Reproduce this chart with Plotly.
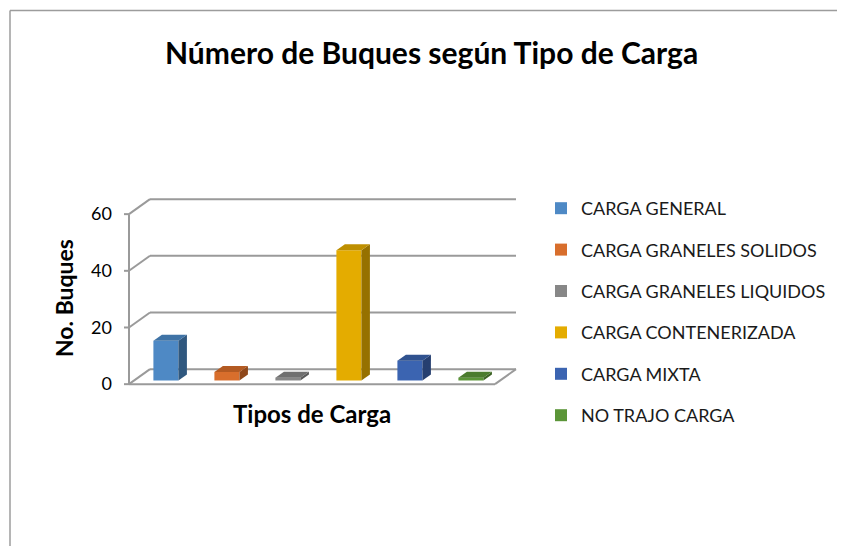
import plotly.graph_objects as go

# ---------------- data ----------------
categories = ["CARGA GENERAL", "CARGA GRANELES SOLIDOS", "CARGA GRANELES LIQUIDOS",
              "CARGA CONTENERIZADA", "CARGA MIXTA", "NO TRAJO CARGA"]
values = [14, 3, 1, 46, 7, 1]
y_ticks = [0, 20, 40, 60]

front_colors = ["#4E89C5", "#D86E2C", "#878787", "#E4AC00", "#3B64B1", "#5B9538"]
top_colors = ["#3F73A6", "#B35A22", "#707070", "#BE8F00", "#30528F", "#4B7B2E"]
side_colors = ["#30587F", "#8F481B", "#5A5A5A", "#967100", "#263F70", "#3C6224"]

# ---------------- geometry (page pixels -> axis units) ----------------
PAGE_W, PAGE_H = 845, 546
OFF = 8                      # default body margin of the written html page
W, H = PAGE_W - OFF, PAGE_H - OFF
PX_CAT = 61.0                # px per category
PX_UNIT = 170.0 / 60.0       # px per y unit
WX = 21 / PX_CAT             # wall depth in x units
WY = 15 / PX_UNIT            # wall depth in y units
BX = 8.5 / PX_CAT            # bar depth
BY = 6 / PX_UNIT
BAR_OFF = 0.105
BAR_W = 0.41
BAR_BASE = 1.3

xmin, xmax = -0.5 - 6 / PX_CAT, 5.5 + WX + 4 / PX_CAT
ymin, ymax = -1.0, 66.4
ml = 123 - OFF
plot_w = int(round((xmax - xmin) * PX_CAT))
mr = W - ml - plot_w
mt = 196 - OFF
plot_h = int(round((ymax - ymin) * PX_UNIT))
mb = H - mt - plot_h


def px2x(px):
    return (px - OFF - ml) / plot_w


def py2y(py):
    return (mt + plot_h - (py - OFF)) / plot_h


fig = go.Figure()

GRID = "#9a9a9a"
shapes = []


def seg(x0, y0, x1, y1, width=2):
    shapes.append(dict(type="line", xref="x", yref="y", x0=x0, y0=y0, x1=x1, y1=y1,
                       line=dict(color=GRID, width=width), layer="below"))


# back wall gridlines, left diagonals and ticks
for v in y_ticks:
    seg(-0.5 + WX, v + WY, 5.5 + WX, v + WY)
    seg(-0.5, v, -0.5 + WX, v + WY)
    seg(-0.5 - 5 / PX_CAT, v, -0.5, v)
# front axis and floor
seg(-0.5, 0, -0.5, y_ticks[-1])
seg(-0.5, 0, 5.5, 0)
seg(5.5, 0, 5.5 + WX, WY)

# bars (front faces)
for i, (c, v) in enumerate(zip(categories, values)):
    fig.add_trace(go.Bar(
        x=[i + BAR_OFF], y=[v], base=[BAR_BASE], width=[BAR_W], name=c,
        legendgroup=c, marker=dict(color=front_colors[i], line=dict(width=0)),
        hovertemplate=c + ": %{y}<extra></extra>"))

# 3D faces
for i, (c, v) in enumerate(zip(categories, values)):
    x0 = i + BAR_OFF - BAR_W / 2
    x1 = i + BAR_OFF + BAR_W / 2
    b = BAR_BASE
    t = BAR_BASE + v
    fig.add_trace(go.Scatter(
        x=[x1, x1 + BX, x1 + BX, x1, x1], y=[b, b + BY, t + BY, t, b],
        fill="toself", fillcolor=side_colors[i], mode="lines", line=dict(width=0),
        showlegend=False, legendgroup=c, hoverinfo="skip"))
    fig.add_trace(go.Scatter(
        x=[x0, x1, x1 + BX, x0 + BX, x0], y=[t, t, t + BY, t + BY, t],
        fill="toself", fillcolor=top_colors[i], mode="lines", line=dict(width=0),
        showlegend=False, legendgroup=c, hoverinfo="skip"))

# chart border (left and top only visible)
bx, by = 10, 10.5
shapes.append(dict(type="line", xref="paper", yref="paper",
                   x0=px2x(bx), y0=py2y(PAGE_H + 5), x1=px2x(bx), y1=py2y(by),
                   line=dict(color="#9c9c9c", width=1.5)))
shapes.append(dict(type="line", xref="paper", yref="paper",
                   x0=px2x(bx), y0=py2y(by), x1=px2x(PAGE_W + 5), y1=py2y(by),
                   line=dict(color="#9c9c9c", width=1.5)))

FONT = "Lato"
annotations = [
    dict(text="<b>Número de Buques según Tipo de Carga</b>", xref="paper", yref="paper",
         x=px2x(431), y=py2y(52), showarrow=False, xanchor="center", yanchor="middle",
         font=dict(family=FONT, size=30, color="#000000")),
    dict(text="<b>No. Buques</b>", xref="paper", yref="paper",
         x=px2x(64), y=py2y(298), showarrow=False, textangle=-90,
         xanchor="center", yanchor="middle",
         font=dict(family=FONT, size=23, color="#000000")),
    dict(text="<b>Tipos de Carga</b>", xref="paper", yref="paper",
         x=px2x(312), y=py2y(413), showarrow=False, xanchor="center", yanchor="middle",
         font=dict(family=FONT, size=24, color="#000000")),
]

fig.update_layout(
    width=W, height=H,
    margin=dict(l=ml, r=mr, t=mt, b=mb, pad=0),
    paper_bgcolor="white", plot_bgcolor="white",
    barmode="overlay",
    showlegend=True,
    legend=dict(x=px2x(541), y=py2y(190), xanchor="left", yanchor="top",
                traceorder="grouped", tracegroupgap=15, maxheight=500,
                font=dict(family=FONT, size=18, color="#1a1a1a"),
                bgcolor="rgba(0,0,0,0)"),
    xaxis=dict(range=[xmin, xmax], visible=False, fixedrange=True),
    yaxis=dict(range=[ymin, ymax], tickvals=y_ticks, ticks="", showgrid=False,
               zeroline=False, showline=False, ticklabelstandoff=10,
               tickfont=dict(family=FONT, size=18, color="#000000"), fixedrange=True),
    shapes=shapes,
    annotations=annotations,
)

fig.write_html("out.html")
